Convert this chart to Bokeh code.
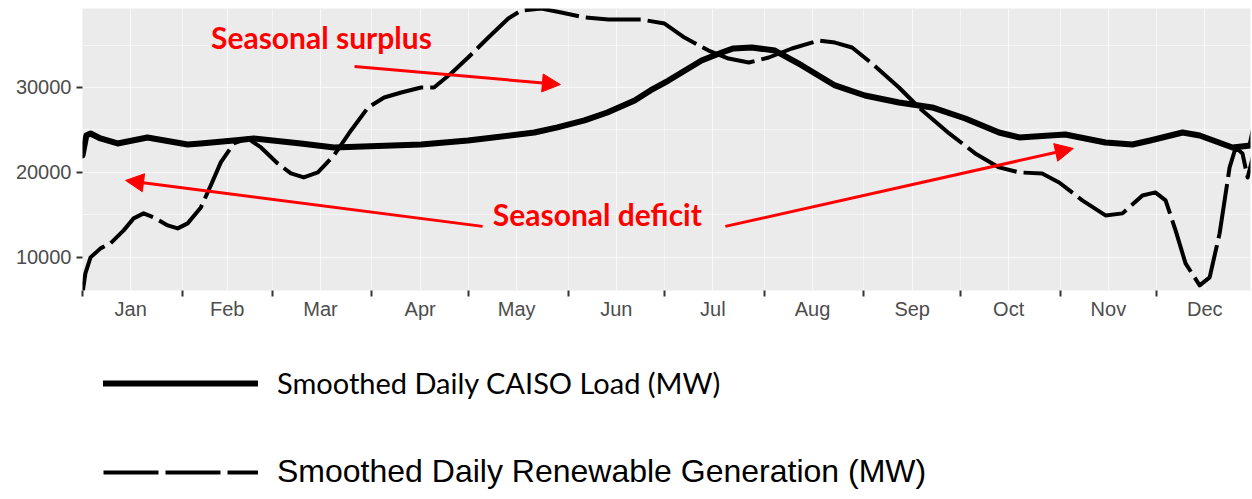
from bokeh.plotting import figure
from bokeh.layouts import column
from bokeh.models import (Range1d, FixedTicker, Label, Arrow, NormalHead,
                          Legend, LegendItem)
from bokeh.embed import file_html
from bokeh.resources import INLINE

# ---------------- data ----------------
months = ["Jan", "Feb", "Mar", "Apr", "May", "Jun",
          "Jul", "Aug", "Sep", "Oct", "Nov", "Dec"]
month_start_day = [0, 31, 59, 90, 120, 151, 181, 212, 243, 273, 304, 334, 365]
month_label_day = [15, 45, 74, 105, 135, 166, 196, 227, 258, 288, 319, 349]

y_ticks = [10000, 20000, 30000]
y_minor = [15000, 25000, 35000]

load_day = [0, 1.2, 2.5, 5.6, 10.9, 20.2, 32.7, 36.7, 47.0, 53.3, 67.9, 78.2,
            105.3, 119.9, 140.5, 147.7, 156.1, 163.2, 171.7, 176.6, 182.2,
            192.5, 198.8, 202.4, 208.1, 215.3, 223.7, 234.0, 243.3, 253.9,
            264.2, 274.5, 285.0, 291.3, 305.6, 318.1, 326.5, 332.0, 342.1,
            347.4, 357.6, 363.2, 364.2]
load_mw = [22000, 24350, 24590, 24000, 23410, 24120, 23290, 23410, 23760, 24000,
           23410, 22940, 23290, 23760, 24700, 25300, 26120, 27060, 28470, 29650,
           30820, 33180, 34120, 34600, 34710, 34350, 32590, 30240, 29060, 28240,
           27650, 26350, 24700, 24120, 24470, 23530, 23290, 23760, 24700, 24350,
           22940, 23180, 24940]

ren_day = [0, 0.9, 2.5, 5.6, 8.7, 12.8, 15.9, 19.0, 22.1, 26.5, 29.6, 32.7, 36.8,
           39.9, 43.0, 47.0, 51.4, 55.5, 60.7, 64.8, 68.8, 73.2, 78.2, 83.5,
           88.8, 93.8, 99.1, 105.3, 109.3, 114.6, 119.9, 126.2, 132.4, 136.4,
           142.7, 148.9, 156.1, 163.6, 173.8, 181.0, 187.2, 194.7, 200.9, 207.2,
           213.4, 220.6, 229.0, 234.0, 239.3, 245.5, 253.9, 260.1, 269.5, 277.6,
           285.0, 291.3, 298.4, 303.7, 310.9, 318.1, 323.4, 329.6, 333.6, 336.8,
           339.9, 343.0, 347.4, 350.5, 353.6, 356.7, 358.6, 360.7, 362.3, 363.9,
           364.5]
ren_mw = [5760, 8120, 10000, 11060, 11650, 13180, 14590, 15180, 14710, 13760,
          13410, 14000, 15880, 18470, 21180, 23410, 24000, 22940, 21060, 19880,
          19410, 20000, 22000, 24940, 27650, 28820, 29410, 30000, 30000, 31650,
          33530, 35880, 38120, 39060, 39290, 38820, 38240, 38000, 38000, 37530,
          35880, 34350, 33410, 32940, 33530, 34590, 35530, 35290, 34710, 32820,
          30000, 27650, 24590, 22240, 20590, 20000, 19880, 18820, 16710, 14940,
          15180, 17290, 17650, 16710, 13180, 9290, 6710, 7650, 12820, 20590,
          22940, 22240, 19410, 21760, 24590]

series_names = ["Smoothed Daily CAISO Load (MW)",
                "Smoothed Daily Renewable Generation (MW)"]

# annotations (data units)
surplus_text = ("Seasonal surplus", 74.3, 36000)
deficit_text = ("Seasonal deficit", 160.1, 15060)
arrows = [  # (x_start, y_start, x_end, y_end)
    (84.6, 32470, 148.6, 30350),
    (124.4, 13650, 13.4, 19060),
    (199.9, 13650, 308.1, 22820),
]

load_style = dict(line_width=6, line_color="black", line_join="round",
                  line_cap="round")
ren_style = dict(line_width=4, line_color="black", line_dash="55 7",
                 line_join="round")

# ---------------- main figure ----------------
p = figure(width=1252, height=322,
           x_range=Range1d(0, 363.2), y_range=Range1d(6100, 39300),
           output_backend="svg", toolbar_location=None,
           min_border_left=82, min_border_right=2, min_border_top=8,
           min_border_bottom=32)
p.background_fill_color = "#EBEBEB"
p.border_fill_color = "white"
p.outline_line_color = None

# x axis: labels mid-month, tick marks at month boundaries
xt = FixedTicker(ticks=month_label_day, minor_ticks=month_start_day)
p.xaxis.ticker = xt
p.xaxis.major_label_overrides = {d: m for d, m in zip(month_label_day, months)}
p.xaxis.major_tick_line_color = None
p.xaxis.major_tick_out = 4
p.xaxis.major_tick_in = 0
p.xaxis.minor_tick_line_color = "#333333"
p.xaxis.minor_tick_line_width = 2
p.xaxis.minor_tick_out = 6
p.xaxis.minor_tick_in = 0
p.xaxis.axis_line_color = None
p.xaxis.major_label_standoff = 1
p.xaxis.major_label_text_font = "Liberation Sans"
p.xaxis.major_label_text_font_size = "20px"
p.xaxis.major_label_text_color = "#4D4D4D"

yt = FixedTicker(ticks=y_ticks, minor_ticks=y_minor)
p.yaxis.ticker = yt
p.yaxis.major_tick_line_color = "#333333"
p.yaxis.major_tick_line_width = 2
p.yaxis.major_tick_out = 6
p.yaxis.major_tick_in = 0
p.yaxis.minor_tick_line_color = None
p.yaxis.axis_line_color = None
p.yaxis.major_label_standoff = 5
p.yaxis.major_label_text_font = "Liberation Sans"
p.yaxis.major_label_text_font_size = "20px"
p.yaxis.major_label_text_color = "#4D4D4D"

for g in (p.xgrid, p.ygrid):
    g.grid_line_color = "white"
    g.grid_line_alpha = 0.7
    g.grid_line_width = 1
    g.minor_grid_line_color = "white"
    g.minor_grid_line_alpha = 0.5
    g.minor_grid_line_width = 1

r_load = p.line(load_day, load_mw, **load_style)
r_ren = p.line(ren_day, ren_mw, **ren_style)

for (x0, y0, x1, y1) in arrows:
    p.add_layout(Arrow(x_start=x0, y_start=y0, x_end=x1, y_end=y1,
                       line_color="#FF0000", line_width=3,
                       end=NormalHead(size=18, fill_color="#FF0000",
                                      line_color="#FF0000", line_width=1)))

for (txt, x, y) in (surplus_text, deficit_text):
    p.add_layout(Label(x=x, y=y, text=txt, text_align="center",
                       text_baseline="middle", text_font="Lato",
                       text_font_style="bold", text_font_size="30px",
                       text_color="#FF0000"))

# ---------------- legend figure (below the chart) ----------------
# the same series are drawn here but fall outside this panel's ranges;
# only their legend samples are visible
q = figure(width=1252, height=177, x_range=Range1d(-2, -1),
           y_range=Range1d(-2, -1),
           output_backend="svg", toolbar_location=None,
           min_border_left=0, min_border_right=0, min_border_top=0,
           min_border_bottom=0)
q.axis.visible = False
q.grid.visible = False
q.outline_line_color = None
q.background_fill_color = "white"
q.border_fill_color = "white"

k_load = q.line(load_day, load_mw, **load_style)
k_ren = q.line(ren_day, ren_mw, **ren_style)


def make_legend(label, renderer, font, size, loc):
    return Legend(items=[LegendItem(label=label, renderers=[renderer])],
                  location=loc, orientation="vertical",
                  border_line_color=None, background_fill_alpha=0,
                  padding=0, margin=0, glyph_width=155, glyph_height=34,
                  label_height=34, label_standoff=19,
                  label_text_font=font, label_text_font_size=size,
                  label_text_color="black", label_text_baseline="middle")


q.add_layout(make_legend(series_names[0], k_load, "Lato", "29px", (21, 99)))
q.add_layout(make_legend(series_names[1], k_ren, "Liberation Sans", "32px",
                         (21, 9)))

layout = column(p, q, spacing=0)
open("out.html", "w").write(file_html(layout, INLINE))
